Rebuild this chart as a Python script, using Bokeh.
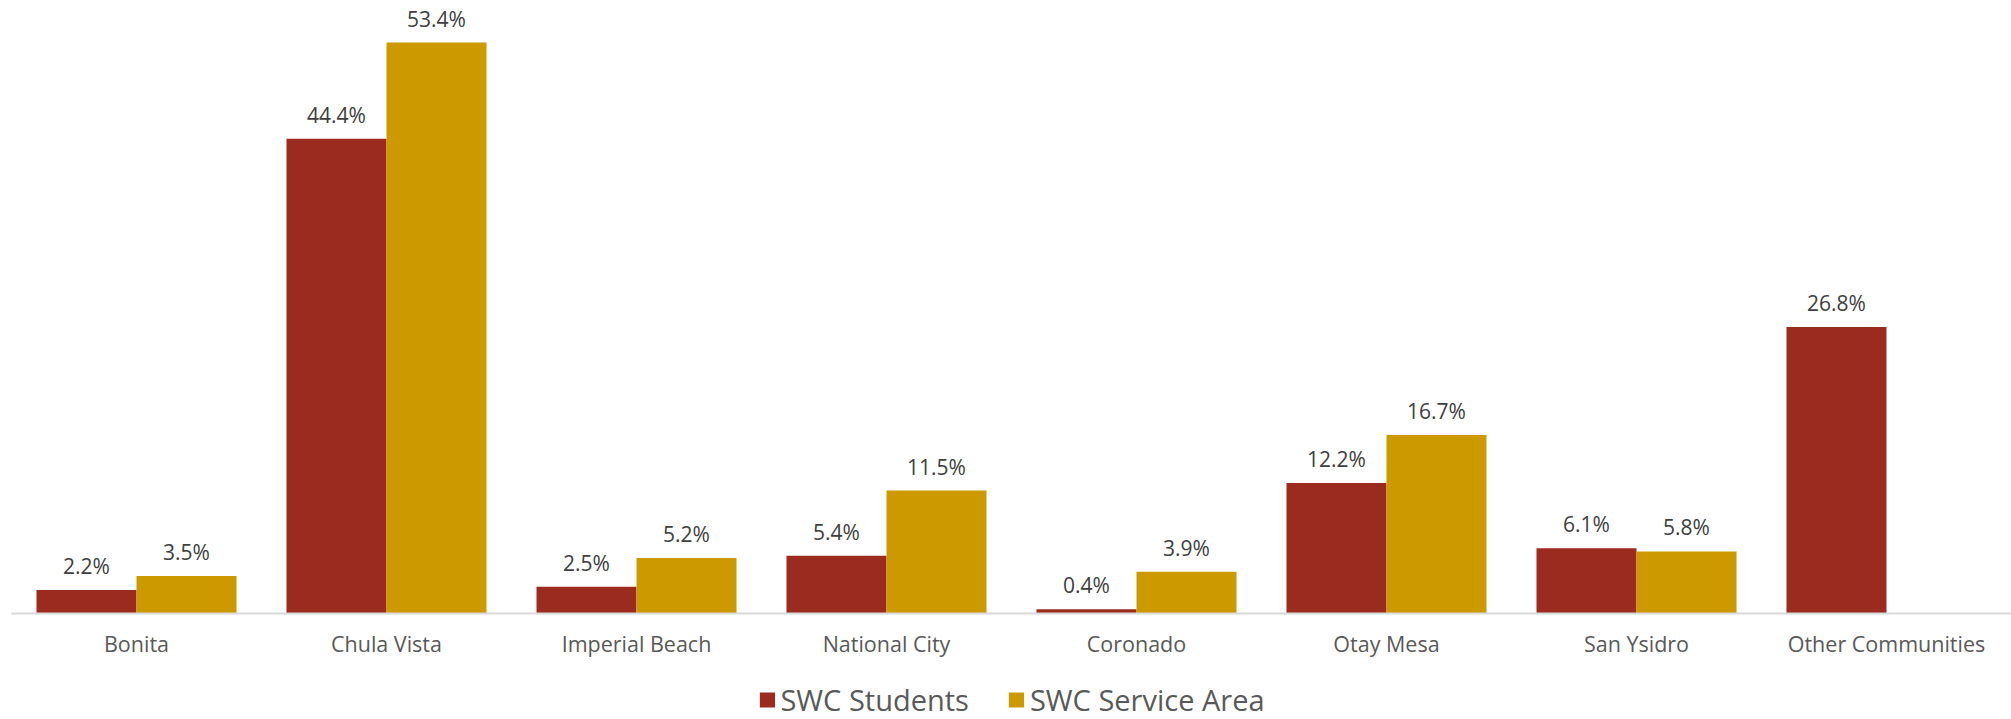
from bokeh.plotting import figure
from bokeh.layouts import column
from bokeh.models import ColumnDataSource, FactorRange, Range1d, Legend, LegendItem
from bokeh.transform import dodge
from bokeh.core.properties import value
from bokeh.embed import file_html
from bokeh.resources import INLINE

categories = ["Bonita", "Chula Vista", "Imperial Beach", "National City",
              "Coronado", "Otay Mesa", "San Ysidro", "Other Communities"]
students = [2.2, 44.4, 2.5, 5.4, 0.4, 12.2, 6.1, 26.8]
service_area = [3.5, 53.4, 5.2, 11.5, 3.9, 16.7, 5.8, None]
series_names = ["SWC Students", "SWC Service Area"]
colors = ["#9B2B1F", "#CC9900"]

FONT = "Open Sans"

src_s = ColumnDataSource(dict(cat=categories, val=students,
                              lbl=[f"{v:.1f}%" for v in students]))
sa_cats = [c for c, v in zip(categories, service_area) if v is not None]
sa_vals = [v for v in service_area if v is not None]
src_a = ColumnDataSource(dict(cat=sa_cats, val=sa_vals,
                              lbl=[f"{v:.1f}%" for v in sa_vals]))

xr = FactorRange(factors=categories, range_padding=0)

# ---- main chart ----
p = figure(x_range=xr, y_range=Range1d(0, 57.34),
           width=2011, height=670,
           output_backend="svg", toolbar_location=None,
           y_axis_type=None, min_border=0, min_border_left=11,
           min_border_bottom=57, outline_line_color=None)
p.xgrid.grid_line_color = None
p.ygrid.grid_line_color = None

p.vbar(x=dodge("cat", -0.2, range=xr), top="val", width=0.4,
       source=src_s, fill_color=colors[0], line_color=None)
p.vbar(x=dodge("cat", 0.2, range=xr), top="val", width=0.4,
       source=src_a, fill_color=colors[1], line_color=None)

for src, off in ((src_s, -0.2), (src_a, 0.2)):
    p.text(x=dodge("cat", off, range=xr), y="val", text="lbl", source=src,
           text_align="center", text_baseline="bottom", y_offset=-10,
           text_font=value(FONT), text_font_size="21px", text_color="#404040")

ax = p.xaxis[0]
ax.axis_line_color = "#D9D9D9"
ax.axis_line_width = 2
ax.major_tick_line_color = None
ax.minor_tick_line_color = None
ax.major_tick_out = 0
ax.major_tick_in = 0
ax.major_label_text_font = FONT
ax.major_label_text_font_size = "21.5px"
ax.major_label_text_color = "#595959"
ax.major_label_standoff = 15

# ---- legend strip (same series, drawn outside its visible y range) ----
pl = figure(x_range=xr, y_range=Range1d(1000, 1001),
            width=2011, height=49,
            output_backend="svg", toolbar_location=None,
            x_axis_type=None, y_axis_type=None, min_border=0,
            min_border_left=11, outline_line_color=None)
pl.xgrid.grid_line_color = None
pl.ygrid.grid_line_color = None
l1 = pl.vbar(x=dodge("cat", -0.2, range=xr), top="val", width=0.4,
             source=src_s, fill_color=colors[0], line_color=None)
l2 = pl.vbar(x=dodge("cat", 0.2, range=xr), top="val", width=0.4,
             source=src_a, fill_color=colors[1], line_color=None)

legend = Legend(items=[LegendItem(label=series_names[0], renderers=[l1]),
                       LegendItem(label=series_names[1], renderers=[l2])],
                orientation="horizontal", location="bottom_center",
                border_line_color=None, background_fill_alpha=0,
                label_text_font=FONT, label_text_font_size="29px",
                label_text_color="#595959",
                glyph_width=19, glyph_height=19, label_standoff=4,
                spacing=38, padding=0, margin=0)
pl.add_layout(legend, "center")

layout = column(p, pl, spacing=0)
open("out.html", "w").write(file_html(layout, INLINE))
